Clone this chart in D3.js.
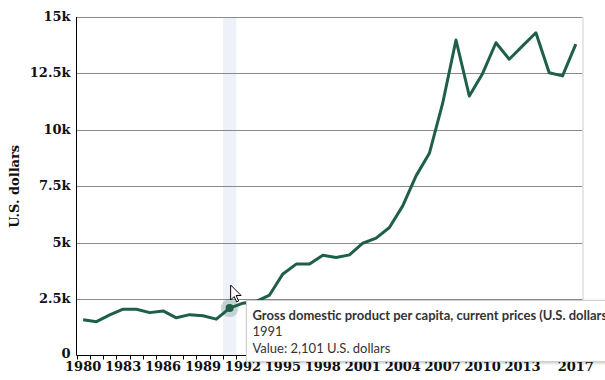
<!DOCTYPE html>
<html><head><meta charset="utf-8">
<script src="https://cdn.jsdelivr.net/npm/d3@7"></script>
<style>
html,body{margin:0;padding:0;background:#fff;overflow:hidden;}
svg{display:block;}
</style></head>
<body>
<svg id="c" width="605" height="380"></svg>
<script>
const years = d3.range(1980, 2018);
const values = [1580,1500,1800,2050,2050,1900,1975,1670,1810,1760,1610,2101,2320,2400,2680,3615,4050,4050,4440,4340,4460,4975,5200,5670,6630,7960,8960,11180,13980,11500,12500,13860,13130,13720,14300,12530,12390,13800];
const xTickLabels = [1980,1983,1986,1989,1992,1995,1998,2001,2004,2007,2010,2013,2017];
const yTicks = [0,2500,5000,7500,10000,12500,15000];
const hoverYear = 1991;
const seriesName = "Gross domestic product per capita, current prices (U.S. dollars)";
const unit = "U.S. dollars";

const L = 76.5, R = 582.5, T = 17, B = 355.5;
const svg = d3.select("#c");
const x = d3.scaleBand().domain(years).range([L, R]);
const y = d3.scaleLinear().domain([0, 15000]).range([B, T]);
const cx = d => x(d) + x.bandwidth()/2;
const serif = "'DejaVu Serif', serif";

// hover band
svg.append("rect").attr("x", x(hoverYear)).attr("y", T).attr("width", x.bandwidth()).attr("height", B - T).attr("fill", "#eef2f8");

// gridlines
svg.append("g").selectAll("line").data(yTicks.filter(d => d > 0)).join("line")
  .attr("x1", L).attr("x2", R).attr("y1", d => Math.round(y(d)) + 0.5).attr("y2", d => Math.round(y(d)) + 0.5)
  .attr("stroke", "#8a8a8a").attr("stroke-width", 1);
// right border
svg.append("line").attr("x1", R + 0.5).attr("x2", R + 0.5).attr("y1", T).attr("y2", B).attr("stroke", "#cfcfcf");

// y labels
svg.append("g").selectAll("text").data(yTicks).join("text")
  .attr("x", L - 6).attr("y", d => y(d)).attr("dy", d => d === 0 ? "0.2em" : "0.3em").attr("text-anchor", "end")
  .attr("font-family", serif).attr("font-weight", "bold").attr("font-size", 13).attr("fill", "#111")
  .text(d => d === 0 ? "0" : (d/1000) + "k");

// y title
svg.append("text").attr("transform", `translate(19,${(T + B)/2}) rotate(-90)`).attr("text-anchor", "middle")
  .attr("font-family", serif).attr("font-weight", "bold").attr("font-size", 13).attr("fill", "#111")
  .text(unit);

// axes lines
svg.append("line").attr("x1", L).attr("x2", L).attr("y1", T).attr("y2", B).attr("stroke", "#000");
svg.append("line").attr("x1", L).attr("x2", R).attr("y1", B).attr("y2", B).attr("stroke", "#000");
// x ticks at band edges
svg.append("g").selectAll("line").data(years).join("line")
  .attr("x1", d => Math.round(x(d)) + 0.5).attr("x2", d => Math.round(x(d)) + 0.5)
  .attr("y1", B).attr("y2", B + 4).attr("stroke", "#000");
svg.append("line").attr("x1", R).attr("x2", R).attr("y1", B).attr("y2", B + 4).attr("stroke", "#000");

// line
svg.append("path").datum(years.map((yr, i) => [yr, values[i]]))
  .attr("fill", "none").attr("stroke", "#1f5f48").attr("stroke-width", 3).attr("stroke-linejoin", "round")
  .attr("d", d3.line().x(d => cx(d[0])).y(d => y(d[1])));

// hover marker
const hv = values[years.indexOf(hoverYear)];
svg.append("circle").attr("cx", cx(hoverYear)).attr("cy", y(hv)).attr("r", 9).attr("fill", "#1f5f48").attr("opacity", 0.22);
svg.append("circle").attr("cx", cx(hoverYear)).attr("cy", y(hv)).attr("r", 4).attr("fill", "#1f5f48");

// x labels
svg.append("g").selectAll("text").data(xTickLabels).join("text")
  .attr("x", d => cx(d)).attr("y", 370.5).attr("text-anchor", "middle")
  .attr("font-family", serif).attr("font-weight", "bold").attr("font-size", 13).attr("fill", "#111")
  .text(d => d);

// tooltip
const defs = svg.append("defs");
const f = defs.append("filter").attr("id", "sh").attr("x", "-10%").attr("y", "-20%").attr("width", "130%").attr("height", "160%");
f.append("feDropShadow").attr("dx", 1).attr("dy", 1).attr("stdDeviation", 1.5).attr("flood-color", "#000").attr("flood-opacity", 0.25);
const tx = 246.5, ty = 300.5;
const tt = svg.append("g");
tt.append("rect").attr("x", tx).attr("y", ty).attr("width", 400).attr("height", 61)
  .attr("fill", "#fff").attr("stroke", "#d0d0d0").attr("filter", "url(#sh)");
const sans = "Lato, 'Noto Sans', sans-serif";
tt.append("text").attr("x", tx + 6).attr("y", ty + 19).attr("font-family", sans).attr("font-weight", "bold").attr("font-size", 13).attr("fill", "#333").text(seriesName);
tt.append("text").attr("x", tx + 6).attr("y", ty + 35.5).attr("font-family", sans).attr("font-size", 13).attr("fill", "#333").text(hoverYear);
tt.append("text").attr("x", tx + 6).attr("y", ty + 52).attr("font-family", sans).attr("font-size", 13).attr("fill", "#333").text("Value: " + d3.format(",")(hv) + " " + unit);

// cursor
svg.append("path").attr("transform", `translate(${cx(hoverYear) + 1},285)`)
  .attr("d", "M0,0 L0,15 L3.5,11.5 L6,17 L8,16 L5.5,10.5 L10.5,10.5 Z")
  .attr("fill", "#fff").attr("stroke", "#000").attr("stroke-width", 1).attr("stroke-linejoin", "round");
</script>
</body></html>
